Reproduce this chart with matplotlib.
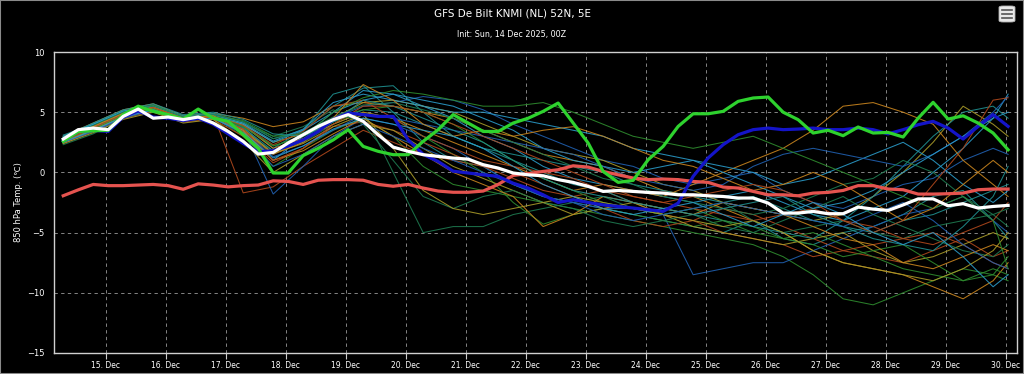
import numpy as np
import matplotlib
matplotlib.use('Agg')
import matplotlib.pyplot as plt
from matplotlib.patches import FancyBboxPatch, Rectangle

# ---- data (850 hPa temperature, degC) ----
hours = list(range(6, 385, 6))                    # thick lines, 6-hourly
member_hours = list(range(6, 379, 12)) + [384]    # thin members, 12-hourly

tick_days = list(range(1, 17))
tick_labels = ['%d. Dec' % d for d in range(15, 31)]

mean_t = [2.77, 3.55, 3.68, 3.55, 4.65, 5.26, 4.5, 4.6, 4.38, 4.6, 4.1, 3.4, 2.58, 1.52, 1.66, 2.45,
          3.13, 3.82, 4.38, 4.8, 4.24, 3.13, 2.1, 1.75, 1.47, 1.33, 1.19, 1.1, 0.64, 0.36, -0.05, -0.2,
          -0.28, -0.6, -0.83, -1.16, -1.58, -1.5, -1.58, -1.66, -1.72, -1.86, -1.86, -1.94, -2.0, -2.13, -2.13, -2.55,
          -3.38, -3.38, -3.24, -3.43, -3.43, -2.88, -3.05, -3.16, -2.7, -2.2, -2.2, -2.77, -2.6, -2.96, -2.83, -2.74]

clim_t = [-1.94, -1.45, -1.0, -1.1, -1.1, -1.05, -1.0, -1.1, -1.4, -0.95, -1.05, -1.2, -1.1, -1.05, -0.7, -0.75,
          -1.0, -0.65, -0.6, -0.6, -0.65, -1.0, -1.15, -1.0, -1.3, -1.55, -1.65, -1.65, -1.55, -1.0, -0.25, -0.1,
          0.08, 0.22, 0.55, 0.44, 0.08, -0.2, -0.47, -0.6, -0.55, -0.6, -0.75, -0.83, -1.22, -1.3, -1.58, -1.86,
          -1.86, -1.94, -1.72, -1.66, -1.5, -1.1, -1.1, -1.38, -1.44, -1.8, -1.8, -1.77, -1.72, -1.44, -1.38, -1.38]

ctrl_t = [2.58, 3.4, 3.46, 3.5, 4.8, 5.5, 5.07, 4.8, 4.43, 5.26, 4.5, 4.24, 3.13, 2.0, -0.05, -0.05,
          1.4, 2.0, 2.7, 3.55, 2.16, 1.75, 1.47, 1.47, 2.58, 3.55, 4.8, 4.1, 3.4, 3.4, 4.1, 4.5,
          5.07, 5.76, 4.1, 2.44, 0.08, -0.83, -0.66, 1.05, 2.16, 3.82, 4.87, 4.87, 5.07, 5.9, 6.18, 6.26,
          5.0, 4.38, 3.27, 3.5, 3.05, 3.77, 3.27, 3.32, 2.94, 4.5, 5.82, 4.43, 4.7, 4.1, 3.27, 1.88]

oper_t = [2.6, 3.4, 3.5, 3.4, 4.6, 5.1, 4.6, 4.5, 4.3, 4.5, 4.0, 3.2, 2.4, 1.7, 1.8, 2.2,
          2.7, 3.4, 4.4, 4.93, 4.8, 4.65, 4.65, 2.7, 1.5, 0.9, 0.1, -0.05, -0.2, -0.33, -0.9, -1.3,
          -1.86, -2.5, -2.27, -2.5, -2.7, -2.83, -2.96, -3.1, -3.24, -2.55, -0.33, 1.2, 2.3, 3.13, 3.55, 3.68,
          3.55, 3.6, 3.68, 3.55, 3.55, 3.68, 3.55, 3.2, 3.55, 3.96, 4.24, 3.68, 2.77, 3.82, 4.8, 3.82]

members = [
    [2.8, 3.9, 5.0, 5.5, 4.6, 4.8, 4.0, 2.0, 3.5, 6.5, 7.2, 5.0, 2.5, 1.0, 0.5, -1.0, -2.0, -2.5, -3.0, -3.5, -4.0, -4.5, -5.0, -4.0, -5.5, -6.0, -5.0, -4.5, -3.5, -2.0, -1.5, -4.0, -5.5],
    [2.6, 3.5, 4.6, 5.3, 4.5, 4.7, 3.8, 1.5, 2.8, 4.5, 5.5, 5.8, 6.3, 6.0, 5.2, 4.0, 3.0, 2.0, 1.0, 0.5, -0.5, -1.0, -0.5, 0.0, -1.5, -2.5, -3.0, -2.0, -1.0, -0.5, 1.0, 2.0, 1.5],
    [2.5, 3.6, 4.8, 5.4, 4.4, 4.6, 3.0, 0.5, 2.0, 3.5, 4.5, 3.0, 0.5, -1.0, -1.5, -2.0, -2.5, -3.0, -3.5, -4.0, -4.5, -5.0, -5.5, -6.0, -7.0, -8.5, -10.5, -11.0, -10.0, -9.0, -8.0, -8.5, -9.0],
    [3.0, 4.1, 5.2, 5.7, 4.7, 4.9, 4.5, 3.8, 4.2, 5.5, 5.8, 5.5, 5.0, 4.5, 3.5, 2.5, 1.5, 1.0, 0.5, -0.5, -1.5, -2.0, -3.0, -4.0, -5.0, -6.5, -7.5, -8.0, -8.5, -9.5, -10.5, -9.0, -7.5],
    [2.4, 3.4, 4.6, 5.3, 4.2, 4.8, -1.7, -1.2, 0.5, 2.0, 3.5, 2.5, 1.5, 1.0, 0.5, 0.0, -1.0, -2.0, -1.5, -2.5, -3.5, -4.0, -3.0, -3.5, -4.5, -5.5, -6.5, -7.0, -7.5, -6.5, -5.5, -7.0, -6.5],
    [2.9, 3.8, 4.9, 5.4, 4.5, 4.6, 3.5, 1.0, 3.0, 5.0, 6.8, 6.5, 5.5, 4.5, 3.0, 2.0, 0.5, -0.5, -1.0, -1.5, -2.0, -2.5, -2.0, -1.5, -2.5, -3.5, -4.0, -3.0, -2.0, 0.0, 2.0, 4.5, 6.5],
    [2.7, 3.7, 4.8, 5.5, 4.6, 4.7, 4.0, 2.5, 3.2, 4.5, 5.8, 6.0, 5.5, 5.0, 4.0, 3.0, 2.0, 1.5, 1.0, 0.0, -1.0, -1.5, -2.5, -3.0, -3.5, -4.0, -3.5, -2.0, 0.0, 2.5, 5.5, 4.0, 3.0],
    [2.3, 3.2, 4.5, 5.1, 4.3, 4.5, 3.3, 1.8, 2.5, 4.0, 5.0, 0.0, -5.0, -4.5, -4.5, -3.5, -3.0, -2.5, -2.0, -3.0, -3.5, -3.0, -2.5, -4.0, -5.0, -4.5, -4.0, -5.0, -5.5, -4.5, -4.0, -3.5, -4.5],
    [3.1, 4.0, 5.1, 5.6, 4.7, 4.9, 4.2, 2.8, 3.5, 5.5, 7.0, 7.2, 5.0, 3.0, 2.0, 1.5, 1.0, 0.5, 0.0, -1.0, -1.5, -2.0, -2.5, -2.0, -3.0, -4.0, -4.5, -5.0, -4.0, -3.5, -2.5, -1.5, -1.0],
    [2.8, 3.6, 4.7, 5.3, 4.4, 4.6, 3.6, -1.8, 0.5, 3.0, 4.5, 4.0, 3.0, 2.0, 0.5, -1.0, -2.0, -2.5, -3.0, -3.0, -3.5, -8.5, -8.0, -7.5, -7.5, -6.5, -5.5, -4.5, -3.5, -3.0, -2.0, -4.0, -5.0],
    [2.6, 3.8, 4.8, 5.3, 4.4, 4.6, 3.8, 2.2, 3.0, 4.2, 5.0, 4.5, 3.0, 1.5, 0.0, -2.5, -4.3, -3.5, -3.0, -3.5, -4.0, -4.5, -4.0, -5.0, -5.5, -5.0, -6.0, -7.0, -8.0, -8.5, -9.0, -8.0, -8.5],
    [2.7, 3.6, 4.7, 5.4, 4.5, 4.7, 3.9, 2.0, 2.8, 4.0, 5.0, 4.5, 3.5, 2.5, 1.5, 0.5, -0.5, -1.5, -1.0, -1.5, -2.0, -1.0, 0.0, 1.0, 2.0, 3.5, 5.5, 5.8, 5.0, 4.0, 1.0, -1.0, -2.0],
    [2.5, 3.4, 4.5, 5.1, 4.2, 4.4, 3.0, 0.8, 2.0, 3.8, 4.2, 3.5, 2.5, 1.5, 0.5, -0.5, -1.5, -2.0, -3.0, -4.0, -4.5, -4.0, -5.0, -5.5, -6.0, -7.0, -6.5, -6.0, -5.5, -5.0, -6.0, -7.5, -8.0],
    [3.0, 4.0, 5.0, 5.5, 4.6, 4.8, 4.0, 2.5, 3.5, 5.0, 6.0, 6.5, 6.0, 5.5, 4.5, 3.5, 2.0, 1.0, 0.5, 0.0, 0.5, 1.0, 0.5, 0.0, -1.0, -0.5, 0.5, 1.5, 2.5, 1.0, -1.0, -2.5, -1.5],
    [2.4, 3.3, 4.4, 5.0, 4.1, 4.4, 2.6, 0.0, 1.5, 3.0, 4.0, 3.5, 2.0, 0.5, -0.5, -1.5, -2.5, -3.5, -3.0, -2.5, -3.5, -4.5, -5.0, -5.5, -6.0, -5.5, -5.0, -6.5, -7.5, -7.0, -6.0, -5.0, -5.5],
    [2.9, 3.9, 5.0, 5.5, 4.6, 4.7, 4.1, 3.0, 3.8, 5.2, 4.0, 1.0, -2.0, -3.0, -2.0, -1.5, -2.5, -3.0, -4.0, -4.5, -4.0, -3.5, -4.5, -5.0, -4.0, -3.0, -2.0, -3.5, -4.5, -5.5, -6.5, -7.0, -6.0],
    [2.6, 3.7, 4.8, 5.4, 4.5, 4.6, 3.7, 1.8, 2.6, 4.2, 5.2, 5.0, 4.0, 3.0, 2.0, 1.0, 0.0, -1.0, -1.5, -2.5, -3.0, -3.5, -4.0, -4.5, -5.0, -5.5, -4.0, -2.0, 0.5, 3.0, 5.0, 5.5, 4.5],
    [2.7, 3.5, 4.6, 5.2, 4.4, 4.5, 3.5, 1.3, 2.2, 3.5, 4.8, 4.5, 4.0, 3.5, 3.0, 2.5, 2.0, 1.5, 0.5, -0.5, -1.0, -1.5, -1.0, 0.5, 1.5, 2.0, 1.5, 1.0, 0.5, 1.5, 3.0, 5.0, 6.3],
    [2.8, 3.8, 4.9, 5.6, 4.6, 4.8, 4.3, 3.0, 3.2, 4.5, 5.2, 5.5, 5.0, 4.0, 2.5, 1.0, -0.5, -1.5, -2.5, -3.0, -3.5, -3.0, -4.0, -4.5, -5.5, -6.0, -7.0, -6.5, -6.0, -7.5, -9.0, -8.5, -7.0],
    [2.5, 3.5, 4.7, 5.3, 4.3, 4.5, 3.4, 1.0, 1.8, 3.2, 4.5, 3.0, 1.5, 0.0, -1.0, -2.0, -4.5, -3.5, -2.0, -2.5, -3.0, -3.5, -2.5, -3.0, -3.5, -4.5, -5.5, -6.0, -7.5, -8.0, -7.0, -6.0, -6.5],
    [2.7, 3.8, 4.9, 5.4, 4.5, 4.6, 3.9, 2.3, 3.4, 5.5, 6.0, 4.5, 3.0, 2.0, 1.0, 0.5, 0.0, -0.5, -1.5, -2.0, -2.5, -3.0, -3.5, -4.0, -3.5, -3.0, -4.0, -4.5, -5.5, -6.0, -5.0, -4.0, -2.5],
    [2.9, 4.0, 5.1, 5.5, 4.6, 4.8, 4.1, 2.6, 3.6, 5.8, 6.5, 6.0, 5.5, 5.0, 5.0, 4.5, 4.0, 3.5, 3.0, 2.0, 1.5, 1.0, 0.0, -1.0, -2.0, -3.0, -2.5, -1.5, 0.0, 1.5, 3.0, 4.5, 5.0],
    [2.6, 3.6, 4.7, 5.3, 4.4, 4.6, 3.6, 1.6, 2.4, 3.8, 4.8, 2.0, -1.5, -3.0, -3.5, -3.0, -2.5, -2.0, -2.5, -3.0, -3.5, -4.0, -4.5, -4.0, -5.0, -6.5, -7.5, -8.0, -8.5, -9.0, -8.0, -6.5, -5.0],
    [2.8, 3.9, 5.0, 5.5, 4.6, 4.8, 4.2, 2.8, 3.3, 4.6, 5.6, 5.8, 5.2, 4.5, 3.5, 2.5, 1.5, 0.5, -0.5, -1.0, -2.0, -2.5, -3.0, -3.5, -3.0, -2.0, -1.0, -0.5, 1.0, 0.0, -2.0, -3.5, -3.0],
    [3.0, 4.1, 5.2, 5.7, 4.8, 5.0, 4.4, 3.2, 3.0, 4.2, 6.0, 5.5, 4.5, 3.5, 2.5, 1.0, -0.5, -1.5, -2.0, -2.5, -3.0, -3.5, -3.0, -2.5, -2.0, -3.5, -4.5, -5.5, -6.0, -6.5, -4.5, -2.0, 0.5],
    [2.5, 3.4, 4.5, 5.2, 4.3, 4.5, 3.2, 0.5, 1.5, 3.0, 4.0, 3.0, 2.0, 1.0, 0.0, -1.0, -2.0, -2.5, -3.5, -4.0, -3.5, -3.0, -2.5, -3.0, -3.5, -4.0, -4.5, -3.5, -2.5, -4.0, -6.0, -7.5, -8.0],
    [2.7, 3.6, 4.7, 5.3, 4.5, 4.7, 3.8, 2.2, 3.0, 5.0, 6.2, 6.8, 6.5, 6.0, 5.5, 5.5, 5.8, 5.0, 4.0, 3.0, 2.5, 2.0, 2.5, 3.0, 2.0, 1.0, 0.0, -1.0, -2.0, -3.0, -2.0, -4.0, -8.0],
    [2.8, 3.8, 4.9, 5.4, 4.5, 4.7, 3.5, 1.5, 2.5, 4.5, 7.3, 6.0, 4.0, 3.0, 3.5, 3.0, 3.5, 3.8, 3.0, 2.0, 1.0, 0.5, -0.5, -1.5, -1.0, 0.0, -1.0, -2.5, -4.0, -3.0, -1.0, 1.0, 0.0],
    [2.6, 3.7, 4.8, 5.4, 4.5, 4.6, 3.6, 1.0, 2.0, 4.0, 5.5, 5.5, 5.0, 4.0, 3.0, 2.0, 1.0, 0.0, -1.0, -2.0, -2.5, -2.0, -1.5, -1.0, -1.5, -2.5, -4.0, -5.0, -4.0, -1.0, 2.0, 6.0, 6.2],
    [2.5, 3.5, 4.6, 5.2, 4.3, 4.5, 3.3, 1.2, 2.2, 3.6, 4.5, 4.0, 3.5, 3.0, 2.0, 0.5, -1.0, -2.0, -3.0, -3.5, -3.0, -2.5, -3.5, -4.5, -3.5, -2.5, -3.5, -5.0, -6.0, -5.0, -7.0, -9.5, -8.5],
]

member_colors = ['#1f8f8f', '#2060b0', '#2e8b2e', '#c8841e', '#b0481c', '#2a9ac8', '#a89a28', '#1e7a50']

# hours after 00Z -> days in local time (CET), 15 Dec 00:00 = day 1
def to_days(h):
    return (np.asarray(h, dtype=float) + 1.0) / 24.0

x_thick = to_days(hours)
x_mem = to_days(member_hours)

fig = plt.figure(figsize=(10.24, 3.74), dpi=100, facecolor='black')
ax = fig.add_axes([54 / 1024, 21 / 374, 963 / 1024, 301 / 374])
ax.set_facecolor('black')

for k, m in enumerate(members):
    ax.plot(x_mem, m, color=member_colors[k % len(member_colors)], lw=0.75, alpha=0.9, zorder=2)

ax.plot(x_thick, clim_t, color='#e5534f', lw=2.3, zorder=4)
ax.plot(x_thick, oper_t, color='#1414c8', lw=2.3, zorder=5)
ax.plot(x_thick, ctrl_t, color='#2ed22e', lw=2.3, zorder=6)
ax.plot(x_thick, mean_t, color='white', lw=2.3, zorder=7)

ax.set_xlim(0.138, 16.19)
ax.set_ylim(-15, 10)
ax.set_xticks(tick_days)
ax.set_xticklabels(tick_labels)
ax.set_yticks([-15, -10, -5, 0, 5, 10])
ax.tick_params(axis='x', colors='#cccccc', labelcolor='white', labelsize=5.5, length=4, width=0.8, pad=2)
ax.tick_params(axis='y', length=0, labelcolor='white', labelsize=6, pad=7)
ax.grid(True, color='#9a9a9a', lw=0.6, linestyle=(0, (4, 4)), zorder=1)
ax.set_axisbelow(True)
for sp in ax.spines.values():
    sp.set_color('#d0d0d0')
    sp.set_linewidth(1.0)

ax.set_ylabel('850 hPa Temp. (\u2103)', color='white', fontsize=6, labelpad=3)

fig.text(0.5, 1 - 14 / 374, 'GFS De Bilt KNMI (NL) 52N, 5E', color='white',
         fontsize=7.5, ha='center', va='center')
fig.text(0.5, 1 - 35 / 374, 'Init: Sun, 14 Dec 2025, 00Z', color='white',
         fontsize=5.8, ha='center', va='center')

# menu button, top right
btn = FancyBboxPatch((999 / 1024, 1 - 22 / 374), 16 / 1024, 16 / 374,
                     boxstyle='round,pad=0.0,rounding_size=0.004',
                     transform=fig.transFigure, facecolor='#e8e8e8', edgecolor='#b0b0b0', lw=0.6)
fig.patches.append(btn)
for yy in (10, 14, 18):
    fig.add_artist(plt.Line2D([1002 / 1024, 1012 / 1024], [1 - yy / 374, 1 - yy / 374],
                              transform=fig.transFigure, color='#555555', lw=1.2))

fig.patches.append(Rectangle((0, 0), 1, 1, transform=fig.transFigure, fill=False,
                             edgecolor='#8a8a8a', lw=1.5))

fig.savefig('out.png', dpi=100, facecolor='black')
